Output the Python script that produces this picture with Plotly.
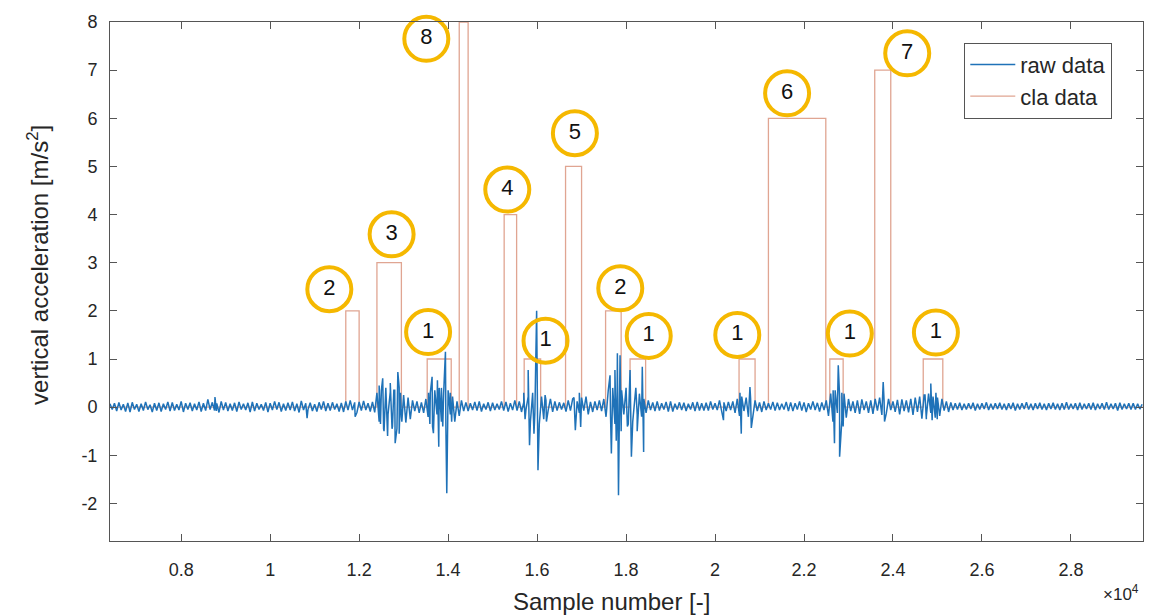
import plotly.graph_objects as go

# ---------------- data ----------------
# raw acceleration, read as the upper edge of the noise band (every 100 samples
# from 6400) and the lower edge (every 100 samples from 6450)
raw_start = 6400
raw_step = 100
raw_upper = [
    0.07, 0.08, 0.10, 0.06, 0.09, 0.10, 0.06, 0.07, 0.11, 0.05,
    0.08, 0.09, 0.07, 0.11, 0.10, 0.06, 0.12, 0.08, 0.09, 0.07,
    0.11, 0.08, 0.16, 0.10, 0.08, 0.12, 0.10, 0.07, 0.09, 0.11,
    0.07, 0.09, 0.11, 0.08, 0.06, 0.10, 0.08, 0.12, 0.10, 0.07,
    0.09, 0.11, 0.07, 0.13, 0.08, 0.09, 0.06, 0.10, 0.12, 0.08,
    0.10, 0.07, 0.09, 0.12, 0.14, 0.10, 0.11, 0.13, 0.08, 0.11,
    0.30, 0.35, 0.40, 0.32, 0.35, 0.40, 0.25, 0.20, 0.14, 0.12,
    0.10, 0.17, 0.30, 0.35, 0.40, 0.30, 0.35, 0.22, 0.12, 0.14,
    0.10, 0.08, 0.11, 0.12, 0.07, 0.10, 0.09, 0.07, 0.12, 0.11,
    0.08, 0.14, 0.12, 0.10, 0.22, 0.28, 0.35, 0.22, 0.14, 0.17,
    0.12, 0.10, 0.09, 0.14, 0.17, 0.12, 0.20, 0.22, 0.11, 0.12,
    0.14, 0.17, 0.35, 0.40, 0.32, 0.35, 0.30, 0.35, 0.35, 0.28,
    0.17, 0.14, 0.10, 0.12, 0.08, 0.11, 0.12, 0.07, 0.10, 0.09,
    0.07, 0.10, 0.11, 0.08, 0.09, 0.12, 0.08, 0.14, 0.10, 0.11,
    0.12, 0.17, 0.22, 0.20, 0.17, 0.14, 0.10, 0.12, 0.08, 0.11,
    0.09, 0.07, 0.11, 0.10, 0.08, 0.12, 0.10, 0.08, 0.12, 0.09,
    0.10, 0.14, 0.28, 0.35, 0.22, 0.28, 0.17, 0.12, 0.14, 0.16,
    0.12, 0.14, 0.17, 0.20, 0.14, 0.17, 0.12, 0.15, 0.16, 0.14,
    0.17, 0.20, 0.22, 0.25, 0.28, 0.22, 0.20, 0.17, 0.12, 0.10,
    0.08, 0.09, 0.07, 0.08, 0.09, 0.07, 0.08, 0.10, 0.07, 0.08,
    0.09, 0.07, 0.08, 0.09, 0.07, 0.08, 0.10, 0.07, 0.08, 0.09,
    0.07, 0.08, 0.09, 0.07, 0.08, 0.10, 0.07, 0.08, 0.09, 0.07,
    0.08, 0.09, 0.07, 0.08, 0.10, 0.07, 0.08, 0.09, 0.07, 0.08,
    0.08, 0.07, 0.06,
]
raw_lower = [
    -0.05, -0.08, -0.06, -0.09, -0.10, -0.05, -0.09, -0.07, -0.05, -0.10,
    -0.07, -0.09, -0.05, -0.08, -0.07, -0.06, -0.10, -0.05, -0.08, -0.06,
    -0.09, -0.07, -0.05, -0.07, -0.11, -0.06, -0.08, -0.07, -0.09, -0.05,
    -0.06, -0.10, -0.08, -0.05, -0.07, -0.10, -0.06, -0.05, -0.09, -0.07,
    -0.06, -0.08, -0.11, -0.06, -0.05, -0.08, -0.09, -0.05, -0.08, -0.07,
    -0.05, -0.09, -0.10, -0.06, -0.06, -0.11, -0.07, -0.06, -0.09, -0.11,
    -0.30, -0.45, -0.15, -0.40, -0.45, -0.20, -0.32, -0.25, -0.08, -0.12,
    -0.12, -0.20, -0.40, -0.15, -0.30, -0.40, -0.15, -0.30, -0.18, -0.08,
    -0.08, -0.06, -0.07, -0.09, -0.05, -0.08, -0.06, -0.05, -0.07, -0.09,
    -0.06, -0.07, -0.10, -0.05, -0.30, -0.12, -0.35, -0.25, -0.06, -0.10,
    -0.07, -0.05, -0.09, -0.07, -0.14, -0.12, -0.07, -0.15, -0.10, -0.06,
    -0.08, -0.20, -0.12, -0.35, -0.40, -0.15, -0.35, -0.30, -0.15, -0.20,
    -0.12, -0.06, -0.08, -0.07, -0.05, -0.09, -0.09, -0.05, -0.06, -0.08,
    -0.05, -0.08, -0.07, -0.07, -0.07, -0.05, -0.06, -0.10, -0.08, -0.06,
    -0.12, -0.18, -0.08, -0.20, -0.16, -0.08, -0.10, -0.06, -0.05, -0.07,
    -0.06, -0.05, -0.08, -0.08, -0.05, -0.07, -0.10, -0.05, -0.06, -0.09,
    -0.06, -0.18, -0.30, -0.12, -0.28, -0.22, -0.08, -0.12, -0.14, -0.06,
    -0.12, -0.14, -0.07, -0.16, -0.13, -0.06, -0.10, -0.15, -0.08, -0.11,
    -0.16, -0.10, -0.24, -0.25, -0.12, -0.22, -0.18, -0.07, -0.10, -0.06,
    -0.05, -0.06, -0.05, -0.04, -0.07, -0.05, -0.04, -0.06, -0.05, -0.04,
    -0.05, -0.06, -0.04, -0.07, -0.05, -0.04, -0.05, -0.06, -0.04, -0.05,
    -0.06, -0.04, -0.05, -0.06, -0.05, -0.05, -0.04, -0.06, -0.05, -0.04,
    -0.05, -0.06, -0.04, -0.05, -0.05, -0.04, -0.07, -0.05, -0.04, -0.05,
    -0.05, -0.04,
]
# spikes (sample, value)
spike_x = [8760, 8790, 10830, 11910,
           12450, 12480, 12530, 12560, 12600, 12640, 12700, 12740, 12780, 12810,
           12870, 12900, 12930, 12960,
           13560, 13590, 13640, 13670, 13760, 13790, 13850, 13880, 13940, 13970,
           14050, 14080,
           15700, 15730, 15800, 15830, 15900, 15930, 15990, 16020, 16180, 16210,
           16830, 16860, 16950, 16980,
           17640, 17670, 17750, 17780, 17805, 17830, 17865, 17890, 18000, 18030,
           18090, 18120, 18220, 18250, 18365, 18395,
           20190, 20560, 20590, 20785, 20815,
           22655, 22685, 22770, 22800, 22850, 22880,
           23780, 23810, 24720, 24750, 24850, 24880, 24965, 24995]
spike_y = [0.21, -0.08, -0.23, -0.20,
           0.45, -0.35, 0.60, -0.50, 0.40, -0.60, 0.50, -0.45, 0.35, -0.75,
           0.73, -0.55, 0.30, -0.30,
           0.30, -0.35, 0.63, -0.54, 0.56, -0.82, 0.40, -0.40, 1.15, -1.79,
           0.30, -0.30,
           0.30, -0.25, 0.77, -0.79, 0.30, -0.55, 2.00, -1.31, 0.25, -0.30,
           0.20, -0.48, 0.30, -0.41,
           0.66, -0.96, 0.77, -0.70, 1.12, -1.83, 1.08, -0.50, 0.40, -0.40,
           0.77, -1.03, 0.40, -0.50, 0.84, -0.93,
           -0.27, 0.30, -0.55, 0.42, -0.43,
           0.35, -0.75, 0.87, -1.03, 0.30, -0.40,
           0.52, -0.30, 0.25, -0.20, 0.49, -0.27, 0.30, -0.25]

# classification levels (start sample, end sample, class)
cla_start = [11700, 12400, 13530, 14250, 15260, 15710, 16640, 17540, 18090,
             20540, 21200, 22580, 23590, 24680]
cla_end = [12000, 12950, 14070, 14450, 15540, 16080, 17000, 17890, 18440,
           20900, 22490, 22880, 23950, 25120]
cla_level = [2, 3, 1, 8, 4, 1, 5, 2, 1, 1, 6, 1, 7, 1]

# circled labels (sample, value, text)
lab_x = [11330, 12730, 13550, 13510, 15330, 16190, 16850, 17870, 18510,
         20500, 21620, 23030, 24320, 24965]
lab_y = [2.45, 3.59, 1.56, 7.65, 4.52, 1.38, 5.69, 2.47, 1.48,
         1.50, 6.52, 1.53, 7.35, 1.55]
lab_text = ["2", "3", "1", "8", "4", "1", "5", "2", "1", "1", "6", "1", "7", "1"]

x_range = [6400, 29620]
y_range = [-2.78, 8]
x_ticks = [8000, 10000, 12000, 14000, 16000, 18000, 20000, 22000, 24000, 26000, 28000]
x_ticktext = ["0.8", "1", "1.2", "1.4", "1.6", "1.8", "2", "2.2", "2.4", "2.6", "2.8"]
y_ticks = [-2, -1, 0, 1, 2, 3, 4, 5, 6, 7, 8]
y_ticktext = ["-2", "-1", "0", "1", "2", "3", "4", "5", "6", "7", "8"]

# ---------------- build traces ----------------
pts = [(raw_start + raw_step * i, v) for i, v in enumerate(raw_upper)]
pts += [(raw_start + raw_step // 2 + raw_step * i, v) for i, v in enumerate(raw_lower)]
pts += list(zip(spike_x, spike_y))
pts.sort(key=lambda p: p[0])
raw_x = [p[0] for p in pts]
raw_y = [p[1] for p in pts]

cla_x = [x_range[0]]
cla_y = [0]
for s, e, lv in zip(cla_start, cla_end, cla_level):
    cla_x += [s, s, e, e]
    cla_y += [0, lv, lv, 0]
cla_x.append(x_range[1])
cla_y.append(0)

FONT = "Liberation Sans, Arial, sans-serif"
TXT = "#262626"
AX = "#555555"

fig = go.Figure()
fig.add_trace(go.Scatter(
    x=cla_x, y=cla_y, mode="lines", name="cla data",
    line=dict(color="#e0a592", width=1.3), legendrank=2, cliponaxis=False))
fig.add_trace(go.Scatter(
    x=raw_x, y=raw_y, mode="lines", name="raw data",
    line=dict(color="#1f72b8", width=1.5), legendrank=1))
fig.add_trace(go.Scatter(
    x=lab_x, y=lab_y, mode="markers+text", text=lab_text,
    textposition="middle center",
    textfont=dict(size=22, color="#111111", family=FONT),
    marker=dict(symbol="circle-open", size=44, color="#f5b800",
                line=dict(width=4, color="#f5b800")),
    showlegend=False, cliponaxis=False, hoverinfo="skip"))

fig.update_layout(
    width=1152, height=615,
    margin=dict(l=110, r=9, t=22, b=74, autoexpand=False),
    paper_bgcolor="white", plot_bgcolor="white",
    font=dict(family=FONT, color=TXT, size=18),
    showlegend=True,
    legend=dict(x=0.827, y=0.96, xanchor="left", yanchor="top",
                bordercolor=AX, borderwidth=1, bgcolor="white",
                font=dict(size=22, color=TXT), tracegroupgap=0,
                itemwidth=45),
)
fig.update_xaxes(
    range=x_range, tickvals=x_ticks, ticktext=x_ticktext, automargin=False,
    ticks="inside", ticklen=7, tickcolor=AX,
    showline=True, linecolor=AX, linewidth=1, mirror="allticks",
    showgrid=False, zeroline=False, tickfont=dict(size=18, color=TXT),
    ticklabelstandoff=12,
)
fig.update_yaxes(
    range=y_range, tickvals=y_ticks, ticktext=y_ticktext, automargin=False,
    ticks="inside", ticklen=7, tickcolor=AX,
    showline=True, linecolor=AX, linewidth=1, mirror="allticks",
    showgrid=False, zeroline=False, tickfont=dict(size=18, color=TXT),
    ticklabelstandoff=8,
)
# axis titles and exponent label
fig.add_annotation(
    x=0.485, y=-0.1175, xref="paper", yref="paper", xanchor="center", yanchor="middle",
    text="Sample number [-]", showarrow=False, font=dict(size=24, color=TXT))
fig.add_annotation(
    x=-0.0697, y=0.532, xref="paper", yref="paper", xanchor="center", yanchor="middle",
    text="vertical acceleration [m/s<sup>2</sup>]", textangle=-90, showarrow=False,
    font=dict(size=24, color=TXT))
fig.add_annotation(
    x=0.998, y=-0.10, xref="paper", yref="paper", xanchor="right", yanchor="middle",
    text="×10<sup>4</sup>", showarrow=False, font=dict(size=17, color=TXT))

fig.write_html("out.html", config={"displayModeBar": False},
               post_script="document.body.style.margin='0';")
